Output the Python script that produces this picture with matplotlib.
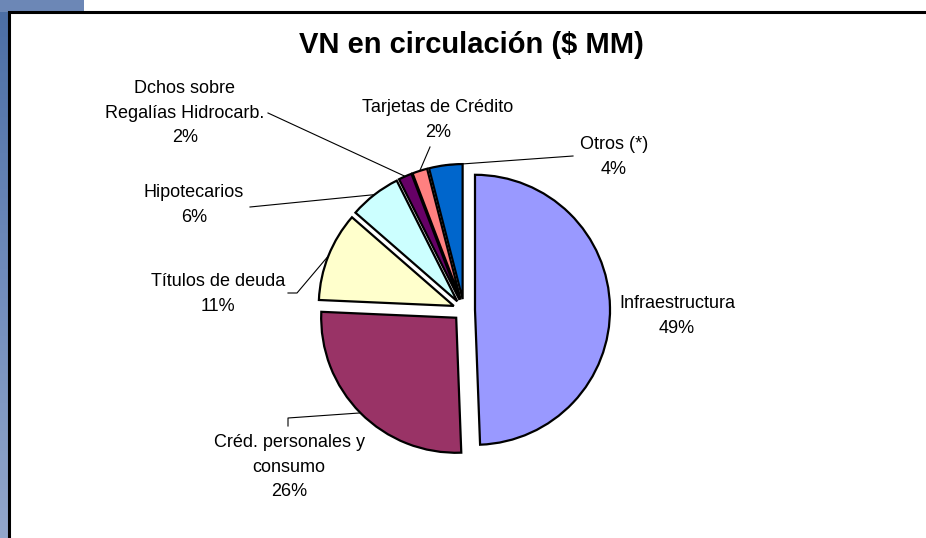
import numpy as np
import matplotlib
matplotlib.use("Agg")
import matplotlib.pyplot as plt
from matplotlib.patches import Rectangle

# ---------- datos ----------
categorias = ["Infraestructura", "Créd. personales y\nconsumo", "Títulos de deuda",
              "Hipotecarios", "Dchos sobre\nRegalías Hidrocarb.", "Tarjetas de Crédito",
              "Otros (*)"]
porcentajes = [49.4, 26.3, 10.7, 6.2, 1.6, 1.8, 4.0]
colores = ["#9999FF", "#993366", "#FFFFCC", "#CCFFFF", "#660066", "#FF8080", "#0066CC"]
titulo = "VN en circulación ($ MM)"

# ---------- layout (pixeles, y hacia abajo) ----------
W, H = 926, 538
CENTRO = (464, 310)
RADIO = 135
SEPARACION = 11  # explode, en pixeles
# centro del bloque de texto de cada etiqueta
pos_etiqueta = [(677, 316), (289, 467), (218, 294), (194, 205), (185, 113), (438, 120), (614, 157)]
# puntos de la línea guía desde la etiqueta (None = sin línea)
guia = [None,
        [(288, 426), (288, 418)],
        [(288, 293), (297, 293)],
        [(250, 207)],
        [(268, 113)],
        [(430, 147)],
        [(573, 156)]]

def py(y):
    return H - y

plt.rcParams["font.family"] = ["Liberation Sans", "DejaVu Sans"]

fig = plt.figure(figsize=(W / 100, H / 100), dpi=100)
ax = fig.add_axes([0, 0, 1, 1])

# fondo azul de la diapositiva
grad = np.linspace(0, 1, 256).reshape(-1, 1)
cmap = matplotlib.colors.LinearSegmentedColormap.from_list("fondo", ["#4a6da4", "#6f8bbb", "#93a7cb"])
ax.imshow(grad, extent=(0, 8, 0, H), cmap=cmap, aspect="auto", origin="upper", zorder=0)
ax.add_patch(Rectangle((0, py(12)), 84, 12, facecolor="#6c87b6", edgecolor="none", zorder=0))

# marco del gráfico
ax.plot([9, 9, W + 5], [-5, py(12), py(12)], color="black", lw=2.2, zorder=1,
        solid_joinstyle="miter")

wedges, _ = ax.pie(porcentajes, colors=colores, startangle=90, counterclock=False,
                   explode=[SEPARACION] * len(porcentajes), radius=RADIO,
                   center=(CENTRO[0], py(CENTRO[1])),
                   wedgeprops=dict(edgecolor="black", linewidth=1.6))

for w, cat, val, pos, g in zip(wedges, categorias, porcentajes, pos_etiqueta, guia):
    ax.text(pos[0], py(pos[1]), f"{cat}\n{round(val):.0f}%", ha="center", va="center",
            fontsize=13, linespacing=1.6, color="black", zorder=5)
    if g is None:
        continue
    ang = np.deg2rad((w.theta1 + w.theta2) / 2)
    cx, cy = w.center
    xs = [p[0] for p in g] + [cx + w.r * np.cos(ang)]
    ys = [py(p[1]) for p in g] + [cy + w.r * np.sin(ang)]
    ax.plot(xs, ys, color="black", lw=0.8, zorder=4)

ax.text(471, py(45), titulo, ha="center", va="center", fontsize=21, fontweight="bold")

ax.set_xlim(0, W)
ax.set_ylim(0, H)
ax.set_aspect("equal")
ax.axis("off")

fig.savefig("out.png", dpi=100, facecolor="white")
